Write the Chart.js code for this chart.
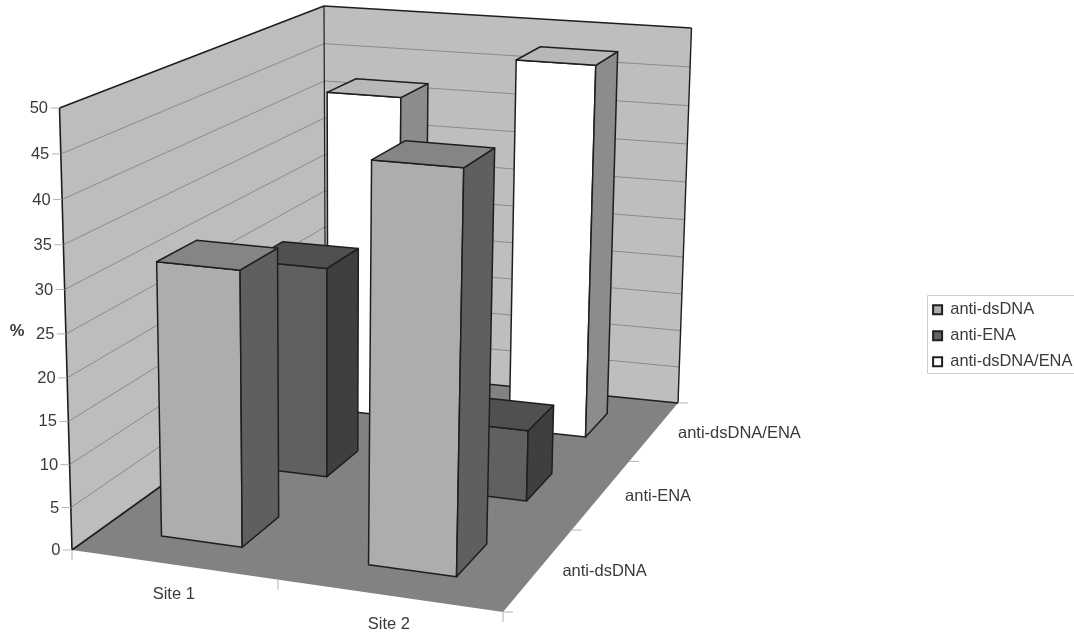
<!DOCTYPE html>
<html>
<head>
<meta charset="utf-8">
<style>html,body{margin:0;padding:0;background:#fff}canvas{display:block}</style>
<script src="https://cdn.jsdelivr.net/npm/chart.js@4/dist/chart.umd.js"></script>
</head>
<body>
<canvas id="c" width="1074" height="636"></canvas>
<script>
// Category and series names
const sites = ['Site 1', 'Site 2'];
const seriesNames = ['anti-dsDNA', 'anti-ENA', 'anti-dsDNA/ENA'];

// Percentages per series, one value per site
const antiDsDna = [32, 45.5];
const antiEna = [26, 8.7];
const antiDsDnaEna = [42, 47.7];

// Value axis
const yMin = 0;
const yMax = 50;
const yStep = 5;

// Face colours per series
const frontColors = ['#adadad', '#606060', '#ffffff'];
const sideColors = ['#5f5f5f', '#3f3f3f', '#8c8c8c'];
const topColors = ['#858585', '#505050', '#b8b8b8'];

// Camera: screen corners of the floor and of the plane at the top of the value axis,
// ordered front-left, front-right, back-right, back-left.
const floorCorners = [[72, 550], [503, 612], [678, 403], [325.5, 368]];
const ceilCorners = [[59.5, 108], [514, 146], [691.5, 28], [324, 6]];
const heightBend = 1.045;

function unitSquareMap(q) {
  const [[x0, y0], [x1, y1], [x2, y2], [x3, y3]] = q;
  const dx1 = x1 - x2, dx2 = x3 - x2, sx = x0 - x1 + x2 - x3;
  const dy1 = y1 - y2, dy2 = y3 - y2, sy = y0 - y1 + y2 - y3;
  const det = dx1 * dy2 - dx2 * dy1;
  const g = (sx * dy2 - dx2 * sy) / det;
  const h = (dx1 * sy - sx * dy1) / det;
  const a = x1 - x0 + g * x1, b = x3 - x0 + h * x3;
  const d = y1 - y0 + g * y1, e = y3 - y0 + h * y3;
  return (u, v) => {
    const n = g * u + h * v + 1;
    return [(a * u + b * v + x0) / n, (d * u + e * v + y0) / n];
  };
}
const floorMap = unitSquareMap(floorCorners);
const ceilMap = unitSquareMap(ceilCorners);

// u runs along the sites, v into the depth, w up the value axis; all in 0..1
function project(u, v, w) {
  const f = floorMap(u, v), c = ceilMap(u, v);
  const t = w / (w + heightBend * (1 - w));
  return [f[0] + (c[0] - f[0]) * t, f[1] + (c[1] - f[1]) * t];
}

// Value scale that places its values along the receding front corner of the box
class BoxValueScale extends Chart.LinearScale {
  static id = 'boxValue';
  static defaults = Chart.LinearScale.defaults;
  getDecimalForValue(value) {
    return (value - this.min) / (this.max - this.min);
  }
  getPixelForValue(value) {
    return project(0, 0, this.getDecimalForValue(value))[1];
  }
}
Chart.register(BoxValueScale);

function polygon(ctx, pts, fill, stroke, width) {
  ctx.beginPath();
  pts.forEach((p, i) => (i ? ctx.lineTo(p[0], p[1]) : ctx.moveTo(p[0], p[1])));
  ctx.closePath();
  if (fill) { ctx.fillStyle = fill; ctx.fill(); }
  if (stroke) { ctx.strokeStyle = stroke; ctx.lineWidth = width; ctx.lineJoin = 'round'; ctx.stroke(); }
}
function segment(ctx, a, b, color, width) {
  ctx.beginPath();
  ctx.moveTo(a[0], a[1]);
  ctx.lineTo(b[0], b[1]);
  ctx.strokeStyle = color;
  ctx.lineWidth = width;
  ctx.stroke();
}

const BAR_WIDTH = 0.4;
const BAR_DEPTH = 0.41;
const EDGE = '#1e1e1e';
const TEXT = '#3a3a3a';
const TICK = '#b4b4b4';
const FONT = '"Liberation Sans", Arial, sans-serif';

const boxPlugin = {
  id: 'box3d',
  afterLayout(chart) {
    // Legend sits in its own frame running off the right of the canvas
    const l = chart.legend;
    l.left = 923.5; l.right = 1090; l.top = 292; l.bottom = 420;
    l.width = l.right - l.left; l.height = l.bottom - l.top;
    l.adjustHitBoxes();
  },
  beforeDatasetsDraw(chart) {
    const { ctx } = chart;
    const yScale = chart.scales.y;
    const w = yScale.ticks.map(t => yScale.getDecimalForValue(t.value));

    // Walls and floor
    polygon(ctx, [project(0, 0, 0), project(1, 0, 0), project(1, 1, 0), project(0, 1, 0)], '#828282');
    polygon(ctx, [project(0, 0, 0), project(0, 0, 1), project(0, 1, 1), project(0, 1, 0)], '#bdbdbd');
    polygon(ctx, [project(0, 1, 0), project(0, 1, 1), project(1, 1, 1), project(1, 1, 0)], '#bebebe');

    // Gridlines along both walls
    w.forEach(d => {
      if (d > 0 && d < 1) {
        segment(ctx, project(0, 0, d), project(0, 1, d), '#7d7d7d', 0.8);
        segment(ctx, project(0, 1, d), project(1, 1, d), '#7d7d7d', 0.8);
      }
    });

    // Box outline
    segment(ctx, project(0, 0, 0), project(0, 0, 1), EDGE, 1.6);
    segment(ctx, project(0, 0, 1), project(0, 1, 1), EDGE, 1.6);
    segment(ctx, project(0, 1, 1), project(1, 1, 1), EDGE, 1.4);
    segment(ctx, project(1, 1, 1), project(1, 1, 0), EDGE, 1.4);
    segment(ctx, project(0, 1, 0), project(0, 1, 1), EDGE, 1.2);
    segment(ctx, project(0, 0, 0), project(0, 1, 0), EDGE, 1.6);
    segment(ctx, project(0, 1, 0), project(1, 1, 0), EDGE, 1.4);

    // Value axis ticks and labels, following the tilted corner
    ctx.font = '16.5px ' + FONT;
    ctx.fillStyle = TEXT;
    ctx.textAlign = 'right';
    ctx.textBaseline = 'middle';
    yScale.ticks.forEach((t, i) => {
      const p = project(0, 0, w[i]);
      const py = yScale.getPixelForTick(i);
      segment(ctx, [p[0] - 9, py], [p[0], py], TICK, 1);
      ctx.fillStyle = TEXT;
      ctx.fillText(String(t.value), p[0] - 11.5, py + 0.5);
    });
    ctx.font = 'bold 16.5px ' + FONT;
    ctx.textAlign = 'center';
    ctx.fillText('%', 17, 331);

    // Site axis
    const xScale = chart.scales.x;
    const depth = chart.scales.depth;
    const nx = sites.length, nz = seriesNames.length;
    for (let i = 0; i <= nx; i++) {
      const p = project(i / nx, 0, 0);
      segment(ctx, p, [p[0], p[1] + 10], TICK, 1);
    }
    ctx.font = '16.5px ' + FONT;
    ctx.textAlign = 'center';
    sites.forEach((s, i) => {
      const u = xScale.getDecimalForPixel(xScale.getPixelForValue(i));
      const p = project(u, 0, 0);
      ctx.fillStyle = TEXT;
      ctx.fillText(s, p[0] + 1, p[1] + 29.5);
    });

    // Depth axis
    for (let j = 0; j <= nz; j++) {
      const p = project(1, j / nz, 0);
      segment(ctx, p, [p[0] + 10, p[1]], TICK, 1);
    }
    ctx.textAlign = 'left';
    seriesNames.forEach((s, j) => {
      const v = depth.getDecimalForPixel(depth.getPixelForValue(j));
      const p = project(1, v, 0);
      ctx.fillStyle = TEXT;
      ctx.fillText(s, p[0] + 23.5, p[1] + 2.5);
    });
  },
  // Each bar becomes a prism standing on the floor; datasets arrive back row first
  beforeDatasetDraw(chart, args) {
    const { ctx } = chart;
    const j = args.index;
    const ds = chart.data.datasets[j];
    const xScale = chart.scales.x, yScale = chart.scales.y, depth = chart.scales.depth;
    const v = depth.getDecimalForPixel(depth.getPixelForValue(j));
    const hz = BAR_DEPTH / seriesNames.length / 2;
    ds.data.forEach((val, i) => {
      const u = xScale.getDecimalForPixel(xScale.getPixelForValue(i));
      const hx = BAR_WIDTH / sites.length / 2;
      const h = yScale.getDecimalForValue(val);
      const u0 = u - hx, u1 = u + hx, v0 = v - hz, v1 = v + hz;
      polygon(ctx, [project(u0, v0, 0), project(u1, v0, 0), project(u1, v0, h), project(u0, v0, h)], ds.backgroundColor, EDGE, 1.5);
      polygon(ctx, [project(u1, v0, 0), project(u1, v1, 0), project(u1, v1, h), project(u1, v0, h)], sideColors[j], EDGE, 1.5);
      polygon(ctx, [project(u0, v0, h), project(u1, v0, h), project(u1, v1, h), project(u0, v1, h)], topColors[j], EDGE, 1.5);
    });
    return false;
  },
  afterDraw(chart) {
    const { ctx } = chart;
    ctx.save();
    ctx.strokeStyle = '#cfcfcf';
    ctx.lineWidth = 1;
    ctx.strokeRect(927.5, 295.5, 160, 78);
    ctx.restore();
  }
};

new Chart(document.getElementById('c'), {
  type: 'bar',
  data: {
    labels: sites,
    datasets: [
      { label: seriesNames[0], data: antiDsDna, backgroundColor: frontColors[0], borderColor: EDGE, borderWidth: 2 },
      { label: seriesNames[1], data: antiEna, backgroundColor: frontColors[1], borderColor: EDGE, borderWidth: 2 },
      { label: seriesNames[2], data: antiDsDnaEna, backgroundColor: frontColors[2], borderColor: EDGE, borderWidth: 2 }
    ]
  },
  options: {
    responsive: false,
    animation: false,
    events: [],
    layout: { padding: { top: 108, bottom: 87 } },
    scales: {
      x: { display: false, type: 'category', offset: true },
      depth: { display: false, type: 'category', axis: 'x', labels: seriesNames, offset: true },
      y: { display: false, type: 'boxValue', min: yMin, max: yMax, ticks: { stepSize: yStep } }
    },
    plugins: {
      tooltip: { enabled: false },
      title: { display: false },
      legend: {
        position: 'right',
        align: 'start',
        labels: {
          boxWidth: 9,
          boxHeight: 9,
          padding: 9.6,
          color: TEXT,
          font: { size: 16.4, family: FONT }
        }
      }
    }
  },
  plugins: [boxPlugin]
});
</script>
</body>
</html>
